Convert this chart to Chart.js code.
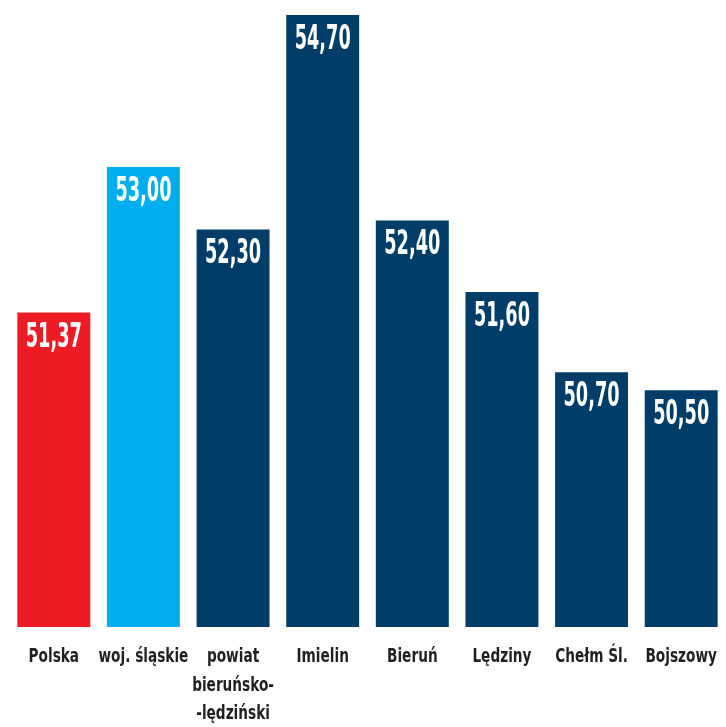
<!DOCTYPE html>
<html>
<head>
<meta charset="utf-8">
<script src="https://cdn.jsdelivr.net/npm/chart.js@4/dist/chart.umd.min.js"></script>
<style>
  html, body { margin: 0; padding: 0; background: #ffffff; }
  #wrap { width: 726px; height: 727px; position: relative; }
</style>
</head>
<body>
<div id="wrap"><canvas id="c"></canvas></div>
<script>
const categories = ["Polska", "woj. śląskie", ["powiat", "bieruńsko-", "-lędziński"], "Imielin", "Bieruń", "Lędziny", "Chełm Śl.", "Bojszowy"];
const values = [51.37, 53.00, 52.30, 54.70, 52.40, 51.60, 50.70, 50.50];
const valueLabels = ["51,37", "53,00", "52,30", "54,70", "52,40", "51,60", "50,70", "50,50"];
const barColors = ["#ED1C24", "#00AEEF", "#003D69", "#003D69", "#003D69", "#003D69", "#003D69", "#003D69"];

const FONT = "'DejaVu Sans Condensed', 'Liberation Sans Narrow', sans-serif";

function drawCondensed(ctx, text, x, y, sx) {
  ctx.save();
  ctx.translate(x, y);
  ctx.scale(sx, 1);
  ctx.fillText(text, 0, 0);
  ctx.restore();
}

const labelPlugin = {
  id: 'customLabels',
  afterDatasetsDraw(chart) {
    const ctx = chart.ctx;
    const meta = chart.getDatasetMeta(0);
    const xs = chart.scales.x;
    const area = chart.chartArea;
    ctx.save();
    ctx.textAlign = 'center';
    ctx.textBaseline = 'alphabetic';
    // value labels inside bars
    ctx.fillStyle = '#ffffff';
    ctx.font = "bold 34px " + FONT;
    meta.data.forEach((bar, i) => {
      drawCondensed(ctx, valueLabels[i], bar.x, bar.y + 34, 0.58);
    });
    // category labels below bars
    ctx.fillStyle = '#231F20';
    ctx.font = "bold 19px " + FONT;
    categories.forEach((lab, i) => {
      const lines = Array.isArray(lab) ? lab : [lab];
      const x = xs.getPixelForValue(i);
      lines.forEach((ln, j) => {
        drawCondensed(ctx, ln, x, area.bottom + 35 + j * 28.5, 0.8);
      });
    });
    ctx.restore();
  }
};

new Chart(document.getElementById('c'), {
  type: 'bar',
  data: {
    labels: categories,
    datasets: [{
      data: values,
      backgroundColor: barColors,
      borderWidth: 0,
      barPercentage: 0.814,
      categoryPercentage: 1.0
    }]
  },
  options: {
    responsive: true,
    maintainAspectRatio: false,
    animation: false,
    layout: { padding: { top: 15, left: 9, right: 0, bottom: 100 } },
    plugins: { legend: { display: false }, tooltip: { enabled: false } },
    scales: {
      y: { display: false, min: 47.85, max: 54.7 },
      x: { display: false }
    }
  },
  plugins: [labelPlugin]
});
</script>
</body>
</html>
